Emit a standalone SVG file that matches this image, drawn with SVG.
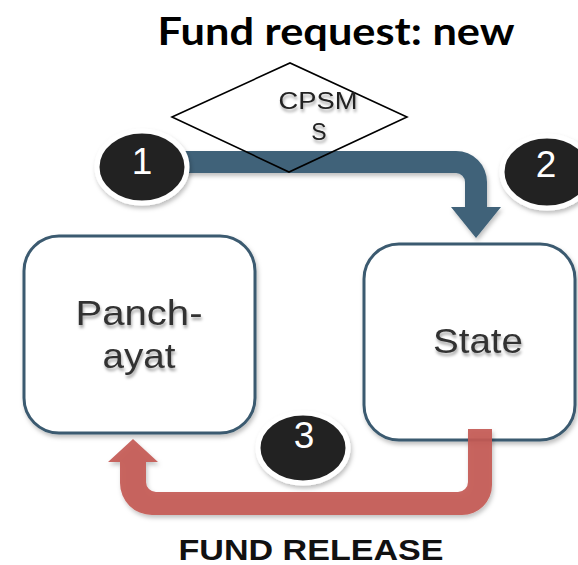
<svg xmlns="http://www.w3.org/2000/svg" width="578" height="565" viewBox="0 0 578 565">
<defs>
<filter id="sh" x="-20%" y="-20%" width="140%" height="150%">
<feDropShadow dx="1.5" dy="3" stdDeviation="2" flood-color="#000" flood-opacity="0.25"/>
</filter>
<filter id="tsh" x="-20%" y="-20%" width="140%" height="160%">
<feDropShadow dx="1" dy="3" stdDeviation="1.5" flood-color="#000" flood-opacity="0.35"/>
</filter>
</defs>
<style>
.box{fill:#fff;stroke:#3b5a6f;stroke-width:3;filter:url(#sh)}
.lbl{font-family:"Liberation Sans",Arial,sans-serif;font-size:35px;fill:#333;text-anchor:middle;filter:url(#tsh)}
.badge{fill:#242424;stroke:#fff;stroke-width:5;filter:url(#sh)}
.num{font-family:"Liberation Sans",Arial,sans-serif;font-size:37px;fill:#fff;text-anchor:middle}
</style>
<rect width="578" height="565" fill="#fff"/>
<text x="336" y="45" font-family="Lato,'Liberation Sans',sans-serif" font-weight="bold" font-size="38" fill="#000" text-anchor="middle" textLength="357" lengthAdjust="spacingAndGlyphs">Fund request: new</text>
<g id="panchayat">
<rect class="box" x="24" y="236" width="231" height="197" rx="35"/>
<text class="lbl" x="139" y="325" textLength="127" lengthAdjust="spacingAndGlyphs">Panch-</text>
<text class="lbl" x="139" y="368" textLength="73" lengthAdjust="spacingAndGlyphs">ayat</text>
</g>
<g id="state">
<rect class="box" x="364" y="244" width="211" height="196" rx="35"/>
<text class="lbl" x="478" y="353" textLength="90" lengthAdjust="spacingAndGlyphs">State</text>
</g>
<g id="connectors">
<path d="M175,151 H456 A31,31 0 0 1 487,182 V207 H501 L476,238 L451,207 H465 V182 A9,9 0 0 0 456,173 H175 Z" fill="#3f6279" filter="url(#sh)"/>
<path d="M468,429 H492 V485 A30,30 0 0 1 462,515 H152 A32,32 0 0 1 120,483 V462 H108 L133,439 L158,462 H146 V482 A10,10 0 0 0 156,492 H458 A10,10 0 0 0 468,482 Z" fill="#c45a55" fill-opacity="0.92" filter="url(#sh)"/>
</g>
<g id="cpsms">
<polygon points="172,117 290,63 407,117 289,172" fill="none" stroke="#000" stroke-width="1.6"/>
<text x="318" y="109" font-family="'Liberation Sans',Arial,sans-serif" font-size="23" fill="#222" text-anchor="middle" textLength="79" lengthAdjust="spacingAndGlyphs" filter="url(#tsh)">CPSM</text>
<text x="319" y="140" font-family="'Liberation Sans',Arial,sans-serif" font-size="23" fill="#222" text-anchor="middle" filter="url(#tsh)">S</text>
</g>
<g id="step1">
<ellipse class="badge" cx="142" cy="167" rx="45" ry="36"/>
<text class="num" x="142" y="174">1</text>
</g>
<g id="step2">
<ellipse class="badge" cx="547" cy="172" rx="45" ry="36"/>
<text class="num" x="546" y="177">2</text>
</g>
<g id="step3">
<ellipse class="badge" cx="303" cy="448" rx="45" ry="35"/>
<text class="num" x="304" y="448">3</text>
</g>
<text x="311" y="560" font-family="'Liberation Sans',Arial,sans-serif" font-weight="bold" font-size="29" fill="#111" text-anchor="middle" textLength="265" lengthAdjust="spacingAndGlyphs">FUND RELEASE</text>
</svg>
